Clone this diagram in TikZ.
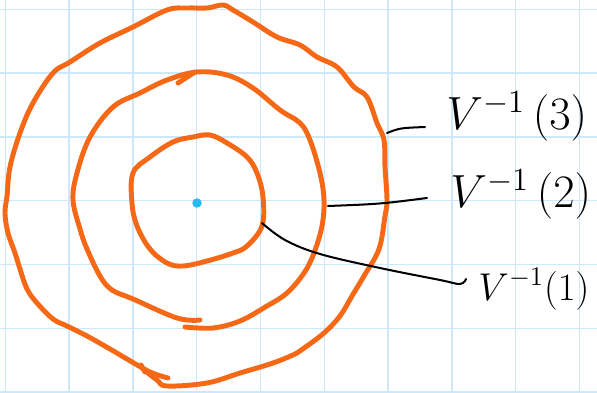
\documentclass[tikz,border=0pt]{standalone}
\usepackage{amsmath}
\usepackage{tikz}
\usetikzlibrary{arrows.meta}
\usepackage[dvipsnames,svgnames,x11names]{xcolor}

\definecolor{gridblue}{RGB}{204,232,250}
\definecolor{levelorange}{RGB}{245,104,22}
\definecolor{dotblue}{RGB}{38,184,242}

\begin{document}
\begin{tikzpicture}[>=Stealth, x=0.01567cm, y=-0.01567cm,
    level/.style={line width=2.2pt, levelorange, line cap=round, line join=round},
    leader/.style={line width=0.9pt, black, line cap=round},
    lbl/.style={anchor=base west, inner sep=0pt, font=\huge}]

\useasboundingbox (0,0) rectangle (597,393);

% Quadricula
\foreach \k in {0,...,9}
  \draw[gridblue, line width=0.6pt] (5.3+63.8*\k,0) -- (5.3+63.8*\k,393);
\foreach \k in {0,...,6}
  \draw[gridblue, line width=0.6pt] (0,9.3+63.8*\k) -- (597,9.3+63.8*\k);

% Corbes de nivell
\draw[level] plot[smooth cycle, tension=0.6] coordinates {
  (132,203) (133,173) (150,157) (173,142) (193,137) (210,135) (227,143)
  (247,157) (257,173) (263,197) (262,226) (247,246) (233,253) (207,261)
  (183,266) (167,263) (150,249) (137,226)};

\draw[level] plot[smooth, tension=0.6] coordinates {
  (200,320) (177,318) (133,299) (112,290) (100,276) (87,249) (80,229)
  (73,200) (77,173) (90,137) (113,107) (140,93) (167,80) (197,72) (227,75)
  (253,88) (280,110) (300,123) (310,140) (320,173) (324,200) (322,226)
  (314,253) (304,273) (287,293) (267,306) (240,321) (213,328) (185,327)};
\draw[level] (178,83) -- (195,72);

\draw[level] plot[smooth, tension=0.6] coordinates {
  (168,378) (150,372) (127,359) (110,349) (87,336) (67,326) (53,319)
  (37,303) (27,289) (20,269) (15,253) (8,233) (5,213) (7,196) (10,167)
  (20,133) (33,103) (53,73) (70,62) (100,43) (133,27) (167,10) (187,8)
  (207,8) (223,5) (233,10) (253,22) (277,37) (300,45) (317,57) (337,67)
  (354,87) (367,97) (377,123) (384,140) (385,167) (387,200) (385,216)
  (379,249) (364,276) (352,296) (340,316) (324,333) (307,346) (297,353)
  (273,363) (240,373) (207,383) (167,386) (157,380) (143,369)};
\draw[level] (141,365) -- (145,372);

% Minim
\fill[dotblue] (197,203) circle (2.1pt);

% Etiquetes
\node[lbl] (l3) at (446,129) {$V^{-1}\,(3)$};
\node[lbl] (l2) at (450,207) {$V^{-1}\,(2)$};
\node[lbl, font=\LARGE] (l1) at (478,300) {$V^{-1}(1)$};

\coordinate (c3) at (387,133);
\coordinate (e3) at (425,127);
\coordinate (c2) at (328,206);
\coordinate (e2) at (427,198);
\coordinate (c1) at (262,223);
\coordinate (e1) at (466,279);

\draw[leader] (c3) .. controls (400,128) .. (e3);
\draw[leader] (c2) .. controls (380,204) .. (e2);
\draw[leader] plot[smooth, tension=0.6] coordinates {
  (c1) (285,240) (320,254) (380,268) (440,280) (460,284) (e1)};

\end{tikzpicture}
\end{document}
